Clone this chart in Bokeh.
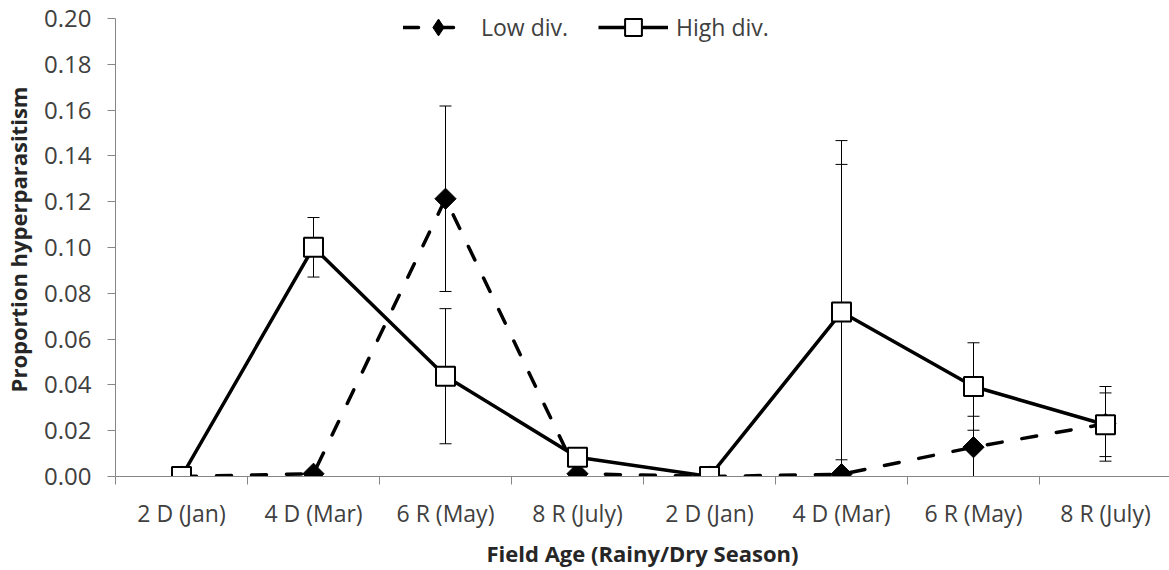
import numpy as np
from bokeh.plotting import figure
from bokeh.models import (Range1d, FixedTicker, Whisker, TeeHead, ColumnDataSource,
                          Legend, LegendItem, NumeralTickFormatter)
from bokeh.embed import file_html
from bokeh.resources import INLINE

# ---- data ----
categories = ["2 D (Jan)", "4 D (Mar)", "6 R (May)", "8 R (July)",
              "2 D (Jan)", "4 D (Mar)", "6 R (May)", "8 R (July)"]
low_div = [0.000, 0.0012, 0.1213, 0.0012, 0.000, 0.0010, 0.0128, 0.0230]
low_err = [0.000, 0.000, 0.0405, 0.000, 0.000, 0.1457, 0.0135, 0.0163]
high_div = [0.000, 0.1001, 0.0438, 0.0084, 0.000, 0.0718, 0.0393, 0.0226]
high_err = [0.000, 0.0130, 0.0295, 0.000, 0.000, 0.0645, 0.0191, 0.0139]
y_ticks = [0.00, 0.02, 0.04, 0.06, 0.08, 0.10, 0.12, 0.14, 0.16, 0.18, 0.20]

FONT = "Open Sans"
TXT = "#404040"
AX = "#868686"

x = np.arange(1, len(categories) + 1)

# frame extends slightly above 0.20 so the legend sits fully inside it
p = figure(width=1169, height=570, output_backend="svg", toolbar_location=None,
           x_range=Range1d(0.5, 0.5 + 1054 / 132), y_range=Range1d(0, 0.207),
           min_border_left=115, min_border_right=0, min_border_top=2,
           min_border_bottom=94)
p.outline_line_color = None
p.grid.visible = False
p.background_fill_color = "white"

# x axis
p.xaxis.ticker = FixedTicker(ticks=list(x), minor_ticks=[i + 0.5 for i in range(0, 9)])
p.xaxis.major_label_overrides = {int(i): c for i, c in zip(x, categories)}
p.xaxis.major_tick_line_color = None
p.xaxis.minor_tick_line_color = AX
p.xaxis.minor_tick_out = 8
p.xaxis.minor_tick_in = 0
p.xaxis.axis_line_color = AX
p.xaxis.major_label_text_font = FONT
p.xaxis.major_label_text_font_size = "23px"
p.xaxis.major_label_text_color = TXT
p.xaxis.major_label_standoff = 12
p.xaxis.axis_label = "Field Age (Rainy/Dry Season)"
p.xaxis.axis_label_text_font = FONT
p.xaxis.axis_label_text_font_style = "bold"
p.xaxis.axis_label_text_font_size = "22px"
p.xaxis.axis_label_text_color = "#262626"
p.xaxis.axis_label_standoff = 6

# y axis
p.yaxis.ticker = FixedTicker(ticks=y_ticks)
p.yaxis.bounds = (y_ticks[0], y_ticks[-1])
p.yaxis.formatter = NumeralTickFormatter(format="0.00")
p.yaxis.axis_line_color = AX
p.yaxis.major_tick_line_color = AX
p.yaxis.major_tick_out = 8
p.yaxis.major_tick_in = 0
p.yaxis.minor_tick_line_color = None
p.yaxis.major_label_text_font = FONT
p.yaxis.major_label_text_font_size = "24px"
p.yaxis.major_label_text_color = TXT
p.yaxis.major_label_standoff = 16
p.yaxis.axis_label = "Proportion hyperparasitism"
p.yaxis.axis_label_text_font = FONT
p.yaxis.axis_label_text_font_style = "bold"
p.yaxis.axis_label_text_font_size = "22px"
p.yaxis.axis_label_text_color = "#262626"
p.yaxis.axis_label_standoff = 8

# error bars
def add_err(vals, errs):
    v = np.array(vals)
    e = np.array(errs)
    m = e > 0
    src = ColumnDataSource(dict(x=x[m], up=(v + e)[m], lo=np.maximum(0, v - e)[m]))
    w = Whisker(source=src, base="x", upper="up", lower="lo", dimension="height",
                line_color="black", line_width=1, level="underlay",
                upper_head=TeeHead(size=12, line_color="black", line_width=1),
                lower_head=TeeHead(size=12, line_color="black", line_width=1))
    p.add_layout(w)

add_err(low_div, low_err)
add_err(high_div, high_err)

low_line = p.line(x, low_div, line_color="black", line_width=3.5,
                  line_dash="15 20", line_cap="round")
high_line = p.line(x, high_div, line_color="black", line_width=3.5)
low_pts = p.scatter(x, low_div, marker="square", angle=np.pi / 4, size=15,
                    fill_color="black", line_color="black", line_width=1)
# legend proxy for the diamond symbol (hidden under the first high-div square)
low_key = p.scatter(x[:1], low_div[:1], marker="diamond", size=14,
                    fill_color="black", line_color="black", line_width=1)
high_pts = p.scatter(x, high_div, marker="square", size=19, fill_color="white",
                     line_color="black", line_width=2)

legend = Legend(items=[LegendItem(label="Low div.", renderers=[low_line, low_key]),
                       LegendItem(label="High div.", renderers=[high_line, high_pts])],
                location=(288, 428), orientation="horizontal",
                glyph_width=70, glyph_height=42, label_standoff=8, spacing=30,
                padding=0, margin=0, border_line_color=None,
                background_fill_alpha=0,
                label_text_font=FONT, label_text_font_size="23px",
                label_text_color=TXT)
p.add_layout(legend, "center")

open("out.html", "w").write(file_html(p, INLINE))
